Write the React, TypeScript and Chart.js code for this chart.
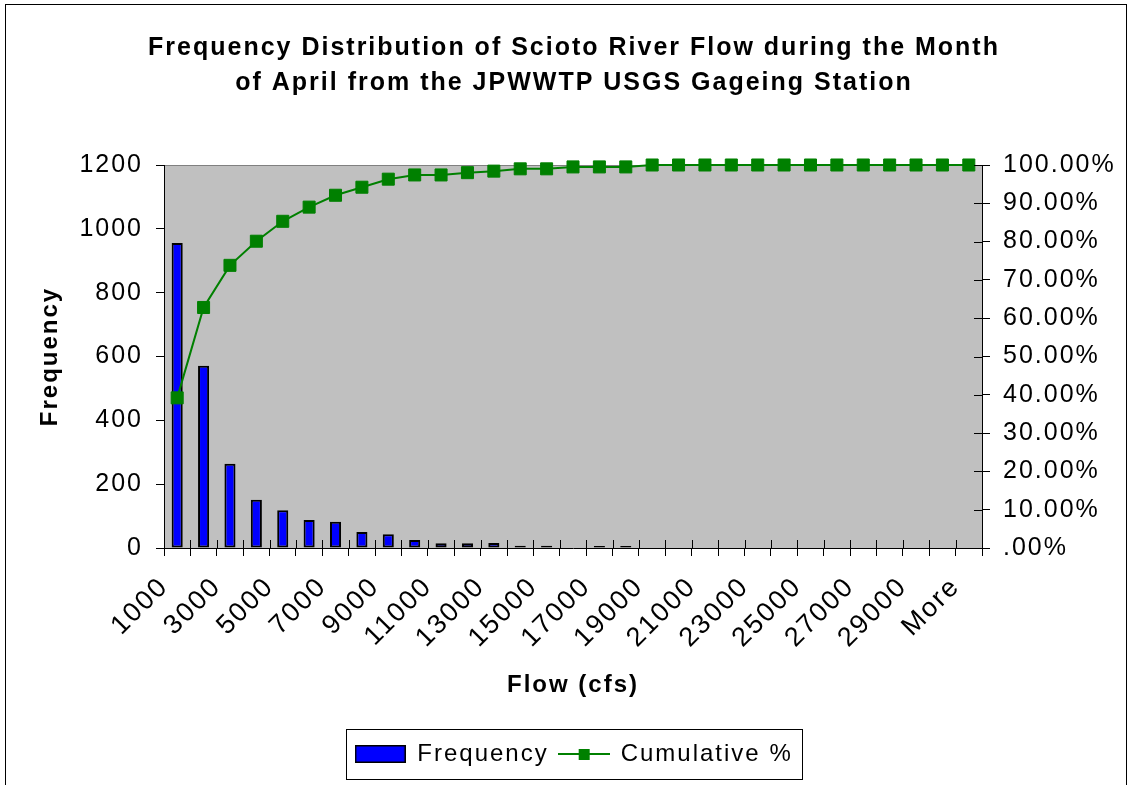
import React, { useEffect, useRef } from 'react';
import { Chart, registerables } from 'chart.js';

Chart.register(...registerables);

const categories = [
  '1000', '2000', '3000', '4000', '5000', '6000', '7000', '8000', '9000', '10000',
  '11000', '12000', '13000', '14000', '15000', '16000', '17000', '18000', '19000', '20000',
  '21000', '22000', '23000', '24000', '25000', '26000', '27000', '28000', '29000', '30000', 'More',
];

const frequency = [
  956, 571, 264, 151, 118, 88, 82, 50, 43, 25,
  15, 15, 16, 7, 7, 0, 6, 6, 0, 0,
  0, 0, 0, 0, 0, 0, 0, 0, 0, 0, 0,
];

const cumulativePct = [
  39.2, 62.8, 73.8, 80.1, 85.3, 89.0, 92.1, 94.2, 96.3, 97.4,
  97.4, 98.0, 98.4, 99.0, 99.0, 99.5, 99.5, 99.5, 100, 100,
  100, 100, 100, 100, 100, 100, 100, 100, 100, 100, 100,
];

const titleLines = [
  'Frequency Distribution of Scioto River Flow during the Month',
  'of April from the JPWWTP USGS Gageing Station',
];

const FONT = '"Liberation Sans", Arial, Helvetica, sans-serif';
const SPACING = '2px';

function makeBarSwatch() {
  const c = document.createElement('canvas');
  c.width = 51;
  c.height = 18;
  const g = c.getContext('2d')!;
  g.fillStyle = '#0000FF';
  g.fillRect(1, 1, 49, 16);
  g.strokeStyle = '#000000';
  g.lineWidth = 1.5;
  g.strokeRect(0.75, 0.75, 49.5, 16.5);
  return c;
}

function makeLineSwatch() {
  const c = document.createElement('canvas');
  c.width = 52;
  c.height = 12;
  const g = c.getContext('2d')!;
  g.strokeStyle = '#008000';
  g.lineWidth = 2;
  g.beginPath();
  g.moveTo(0, 6);
  g.lineTo(52, 6);
  g.stroke();
  g.fillStyle = '#008000';
  g.fillRect(21, 1, 11, 11);
  return c;
}

const decorPlugin = {
  id: 'decor',
  beforeLayout(chart: any) {
    chart.ctx.letterSpacing = SPACING;
  },
  beforeDraw(chart: any) {
    const { ctx, chartArea: a } = chart;
    ctx.letterSpacing = SPACING;
    ctx.save();
    ctx.fillStyle = '#FFFFFF';
    ctx.fillRect(0, 0, chart.width, chart.height);
    ctx.strokeStyle = '#000000';
    ctx.lineWidth = 1;
    ctx.strokeRect(5.5, 4.5, 1121, 800);
    ctx.fillStyle = '#C0C0C0';
    ctx.fillRect(a.left, a.top, a.right - a.left, a.bottom - a.top);
    ctx.strokeStyle = '#808080';
    ctx.beginPath();
    ctx.moveTo(a.left, Math.round(a.top) + 0.5);
    ctx.lineTo(a.right, Math.round(a.top) + 0.5);
    ctx.stroke();
    ctx.restore();
  },
  afterDraw(chart: any) {
    const { ctx, chartArea: a } = chart;
    const xs = chart.scales.x;
    const y1 = chart.scales.y1;
    ctx.save();
    ctx.strokeStyle = '#000000';
    ctx.lineWidth = 1;
    ctx.beginPath();
    const step = xs.getPixelForValue(1) - xs.getPixelForValue(0);
    for (let i = 0; i <= categories.length; i++) {
      const px = Math.round(xs.getPixelForValue(0) + (i - 0.5) * step) + 0.5;
      ctx.moveTo(px, a.bottom - 8);
      ctx.lineTo(px, a.bottom);
    }
    y1.ticks.forEach((t: any) => {
      const py = Math.round(y1.getPixelForValue(t.value)) + 0.5;
      ctx.moveTo(a.right - 8, py);
      ctx.lineTo(a.right, py);
    });
    ctx.stroke();

    const hb = chart.legend && chart.legend.legendHitBoxes;
    if (hb && hb.length) {
      const first = hb[0];
      const last = hb[hb.length - 1];
      const left = first.left - 9;
      const right = last.left + last.width + 10;
      const top = first.top - 13;
      const bottom = first.top + first.height + 13;
      ctx.strokeStyle = '#000000';
      ctx.lineWidth = 1;
      ctx.strokeRect(Math.round(left) + 0.5, Math.round(top) + 0.5, Math.round(right - left), Math.round(bottom - top));
    }
    ctx.restore();
  },
};

export default function App() {
  const ref = useRef<HTMLCanvasElement>(null);

  useEffect(() => {
    const canvas = ref.current;
    if (!canvas) return;
    Chart.defaults.font.family = FONT;
    Chart.defaults.color = '#000000';
    const barSwatch = makeBarSwatch();
    const lineSwatch = makeLineSwatch();

    const chart = new Chart(canvas, {
      type: 'bar',
      data: {
        labels: categories,
        datasets: [
          {
            type: 'bar',
            label: 'Frequency',
            data: frequency,
            backgroundColor: '#0000FF',
            borderColor: '#000000',
            borderWidth: 2,
            borderSkipped: false,
            barPercentage: 0.42,
            categoryPercentage: 1,
            yAxisID: 'y',
            order: 1,
          } as any,
          {
            type: 'line',
            label: 'Cumulative %',
            data: cumulativePct,
            borderColor: '#008000',
            borderWidth: 2,
            backgroundColor: '#008000',
            pointStyle: 'rect',
            pointRadius: 8.5,
            pointBackgroundColor: '#008000',
            pointBorderColor: '#008000',
            pointBorderWidth: 1,
            tension: 0,
            fill: false,
            clip: false,
            yAxisID: 'y1',
            order: 0,
          } as any,
        ],
      },
      options: {
        responsive: false,
        animation: false,
        events: [],
        layout: { padding: { left: 16, right: 0, top: 0, bottom: 9 } },
        scales: {
          x: {
            type: 'category',
            offset: true,
            grid: { offset: true, drawOnChartArea: false, drawTicks: true, tickLength: 8, color: '#000000' },
            border: { display: true, color: '#000000', width: 1 },
            ticks: {
              autoSkip: false,
              maxRotation: 45,
              minRotation: 45,
              padding: 15,
              labelOffset: -13,
              color: '#000000',
              font: { size: 27 },
              callback: (_v: any, i: number) => (i % 2 === 0 ? categories[i] : ''),
            },
            title: {
              display: true,
              text: 'Flow (cfs)',
              color: '#000000',
              font: { size: 24, weight: 'bold' },
              padding: { top: 0, bottom: 32 },
            },
            afterFit: (s: any) => { s.height = 184; },
          },
          y: {
            type: 'linear',
            position: 'left',
            min: 0,
            max: 1200,
            grid: { drawOnChartArea: false, drawTicks: true, tickLength: 8, color: '#000000' },
            border: { display: true, color: '#000000', width: 1 },
            ticks: {
              stepSize: 200,
              padding: 13,
              color: '#000000',
              font: { size: 25 },
              callback: (v: any) => String(v),
            },
            title: {
              display: true,
              text: 'Frequency',
              color: '#000000',
              font: { size: 24, weight: 'bold' },
              padding: { top: 20, bottom: 0 },
            },
            afterFit: (s: any) => { s.width = 148; },
          },
          y1: {
            type: 'linear',
            position: 'right',
            min: 0,
            max: 100,
            grid: { drawOnChartArea: false, drawTicks: true, tickLength: 8, color: '#000000' },
            border: { display: true, color: '#000000', width: 1 },
            ticks: {
              stepSize: 10,
              padding: 13,
              color: '#000000',
              font: { size: 25 },
              callback: (v: any) => (Number(v) === 0 ? '.00%' : Number(v).toFixed(2) + '%'),
            },
            afterFit: (s: any) => { s.width = 150; },
          },
        },
        plugins: {
          title: {
            display: true,
            text: titleLines,
            color: '#000000',
            font: { size: 25, weight: 'bold', lineHeight: 1.4 },
            padding: { top: 31, bottom: 64 },
          },
          legend: {
            display: true,
            position: 'bottom',
            labels: {
              usePointStyle: true,
              pointStyleWidth: 50,
              padding: 10,
              color: '#000000',
              font: { size: 24 },
              generateLabels: () => [
                { text: 'Frequency', pointStyle: barSwatch, fillStyle: '#0000FF', strokeStyle: '#000000', lineWidth: 0, hidden: false, datasetIndex: 0 } as any,
                { text: 'Cumulative %', pointStyle: lineSwatch, fillStyle: '#008000', strokeStyle: '#008000', lineWidth: 0, hidden: false, datasetIndex: 1 } as any,
              ],
            },
          },
          tooltip: { enabled: false },
        },
      } as any,
      plugins: [decorPlugin],
    });

    return () => chart.destroy();
  }, []);

  return (
    <div style={{ position: 'absolute', left: 0, top: 0, width: 1132, height: 785 }}>
      <canvas ref={ref} width={1132} height={785} style={{ display: 'block', width: 1132, height: 785 }} />
    </div>
  );
}
